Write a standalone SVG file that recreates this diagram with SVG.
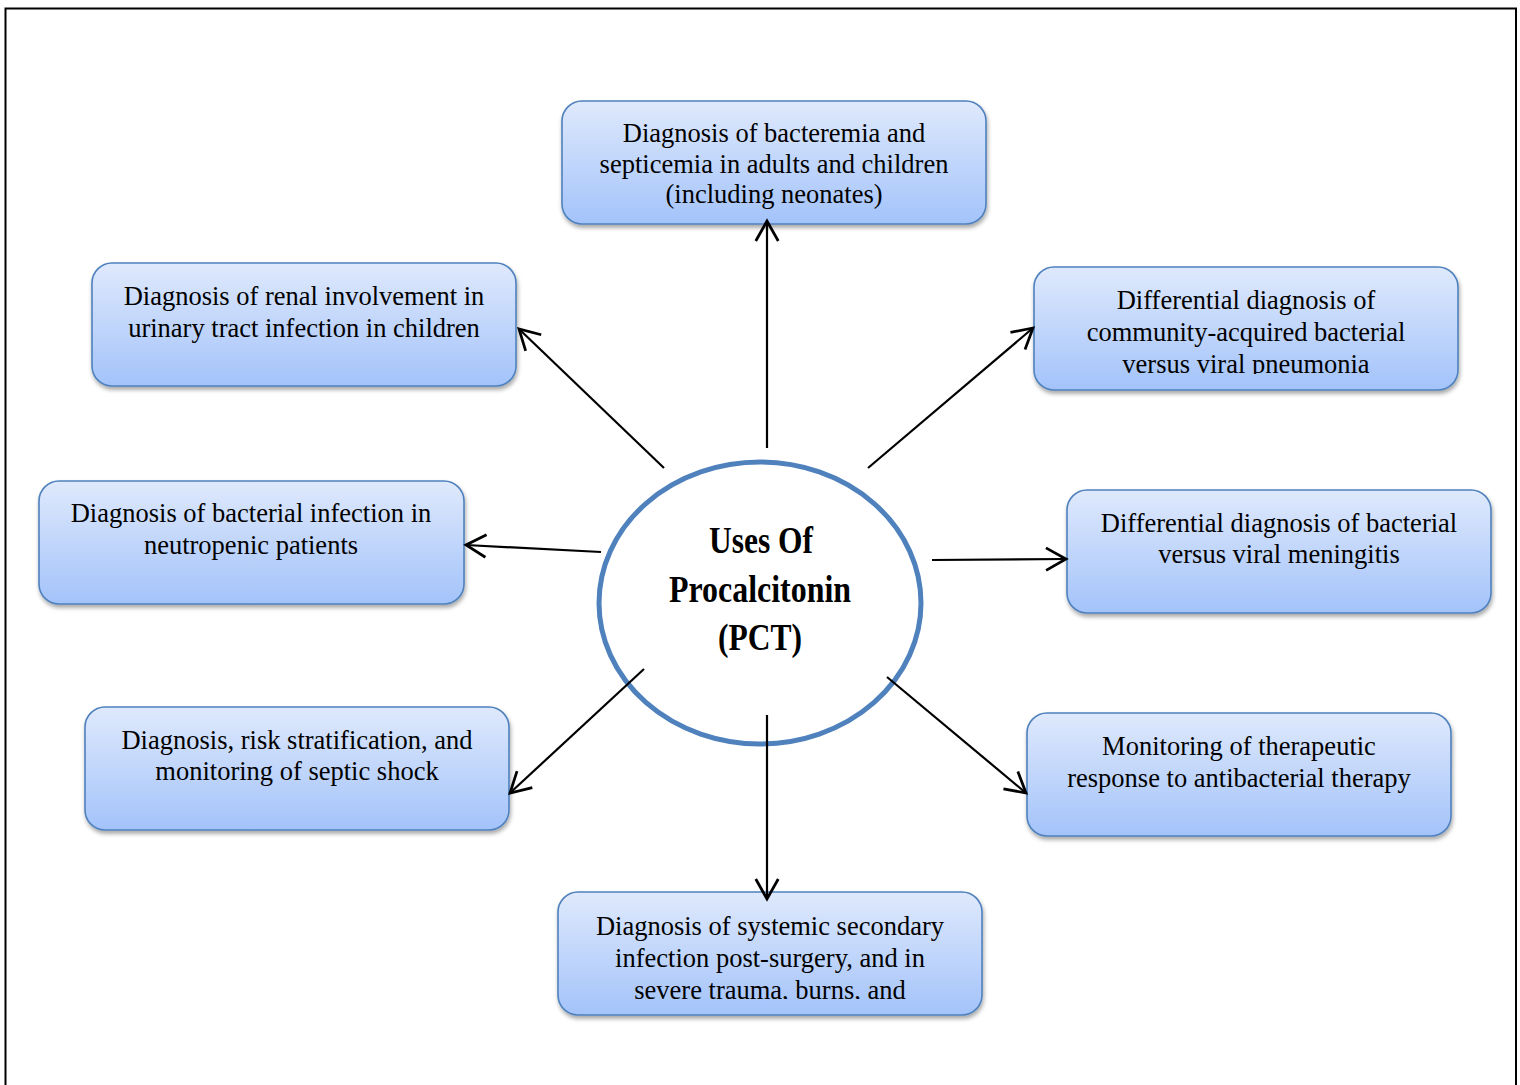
<svg xmlns="http://www.w3.org/2000/svg" width="1520" height="1085" viewBox="0 0 1520 1085">
<defs>
<linearGradient id="boxGrad" x1="0" y1="0" x2="0" y2="1">
<stop offset="0" stop-color="#dfe9fc"/>
<stop offset="1" stop-color="#a3c3fa"/>
</linearGradient>
<filter id="shadow" x="-10%" y="-10%" width="120%" height="130%">
<feDropShadow dx="1" dy="3" stdDeviation="2" flood-color="#000" flood-opacity="0.35"/>
</filter>
<marker id="arrow" markerUnits="userSpaceOnUse" markerWidth="30" markerHeight="30" viewBox="-20 -12 24 24" refX="0" refY="0" orient="auto">
<path d="M-16,-9 L0,0 L-16,9" fill="none" stroke="#000" stroke-width="2.2" stroke-linejoin="miter"/>
</marker>
<clipPath id="clip3"><rect x="1034" y="267" width="425" height="107"/></clipPath>
<clipPath id="clip8"><rect x="558" y="892" width="425" height="107"/></clipPath>
</defs>
<style>
.box{fill:url(#boxGrad);stroke:#4f81bd;stroke-width:1.6;filter:url(#shadow)}
.t{font-family:"Liberation Serif","Times New Roman",serif;font-size:26.5px;fill:#000;text-anchor:middle}
.c{font-family:"Liberation Serif","Times New Roman",serif;font-size:37px;font-weight:bold;fill:#000;text-anchor:middle}
.conn{stroke:#000;stroke-width:2.2;fill:none;marker-end:url(#arrow)}
</style>
<rect x="0" y="0" width="1520" height="1085" fill="#fff"/>
<rect x="5.5" y="8.5" width="1510.5" height="1100" fill="none" stroke="#000" stroke-width="2"/>

<g id="center">
<ellipse cx="760" cy="603" rx="161" ry="141" fill="#fff" stroke="#4f81bd" stroke-width="5"/>
<text class="c" x="761" y="553" textLength="104" lengthAdjust="spacingAndGlyphs">Uses Of</text>
<text class="c" x="760" y="602" textLength="182" lengthAdjust="spacingAndGlyphs">Procalcitonin</text>
<text class="c" x="760" y="650" textLength="84" lengthAdjust="spacingAndGlyphs">(PCT)</text>
</g>

<g id="node1">
<rect class="box" x="562" y="101" width="424" height="123" rx="20"/>
<text class="t" x="774" y="142">Diagnosis of bacteremia and</text>
<text class="t" x="774" y="173">septicemia in adults and children</text>
<text class="t" x="774" y="203">(including neonates)</text>
</g>

<g id="node2">
<rect class="box" x="92" y="263" width="424" height="123" rx="20"/>
<text class="t" x="304" y="305">Diagnosis of renal involvement in</text>
<text class="t" x="304" y="337">urinary tract infection in children</text>
</g>

<g id="node3">
<rect class="box" x="1034" y="267" width="424" height="123" rx="20"/>
<g clip-path="url(#clip3)">
<text class="t" x="1246" y="309">Differential diagnosis of</text>
<text class="t" x="1246" y="341">community-acquired bacterial</text>
<text class="t" x="1246" y="373">versus viral pneumonia</text>
</g>
</g>

<g id="node4">
<rect class="box" x="39" y="481" width="425" height="123" rx="20"/>
<text class="t" x="251" y="522">Diagnosis of bacterial infection in</text>
<text class="t" x="251" y="554">neutropenic patients</text>
</g>

<g id="node5">
<rect class="box" x="1067" y="490" width="424" height="123" rx="20"/>
<text class="t" x="1279" y="532">Differential diagnosis of bacterial</text>
<text class="t" x="1279" y="563">versus viral meningitis</text>
</g>

<g id="node6">
<rect class="box" x="85" y="707" width="424" height="123" rx="20"/>
<text class="t" x="297" y="749">Diagnosis, risk stratification, and</text>
<text class="t" x="297" y="780">monitoring of septic shock</text>
</g>

<g id="node7">
<rect class="box" x="1027" y="713" width="424" height="123" rx="20"/>
<text class="t" x="1239" y="755">Monitoring of therapeutic</text>
<text class="t" x="1239" y="787">response to antibacterial therapy</text>
</g>

<g id="node8">
<rect class="box" x="558" y="892" width="424" height="123" rx="20"/>
<g clip-path="url(#clip8)">
<text class="t" x="770" y="935">Diagnosis of systemic secondary</text>
<text class="t" x="770" y="967">infection post-surgery, and in</text>
<text class="t" x="770" y="999">severe trauma, burns, and</text>
</g>
</g>

<g id="connectors">
<line class="conn" x1="767" y1="448" x2="767" y2="221"/>
<line class="conn" x1="664" y1="468" x2="519" y2="329"/>
<line class="conn" x1="868" y1="468" x2="1033" y2="328"/>
<line class="conn" x1="601" y1="552" x2="466" y2="545"/>
<line class="conn" x1="932" y1="560" x2="1066" y2="559"/>
<line class="conn" x1="644" y1="669" x2="510" y2="793"/>
<line class="conn" x1="887" y1="677" x2="1026" y2="793"/>
<line class="conn" x1="767" y1="715" x2="767" y2="899"/>
</g>
</svg>
